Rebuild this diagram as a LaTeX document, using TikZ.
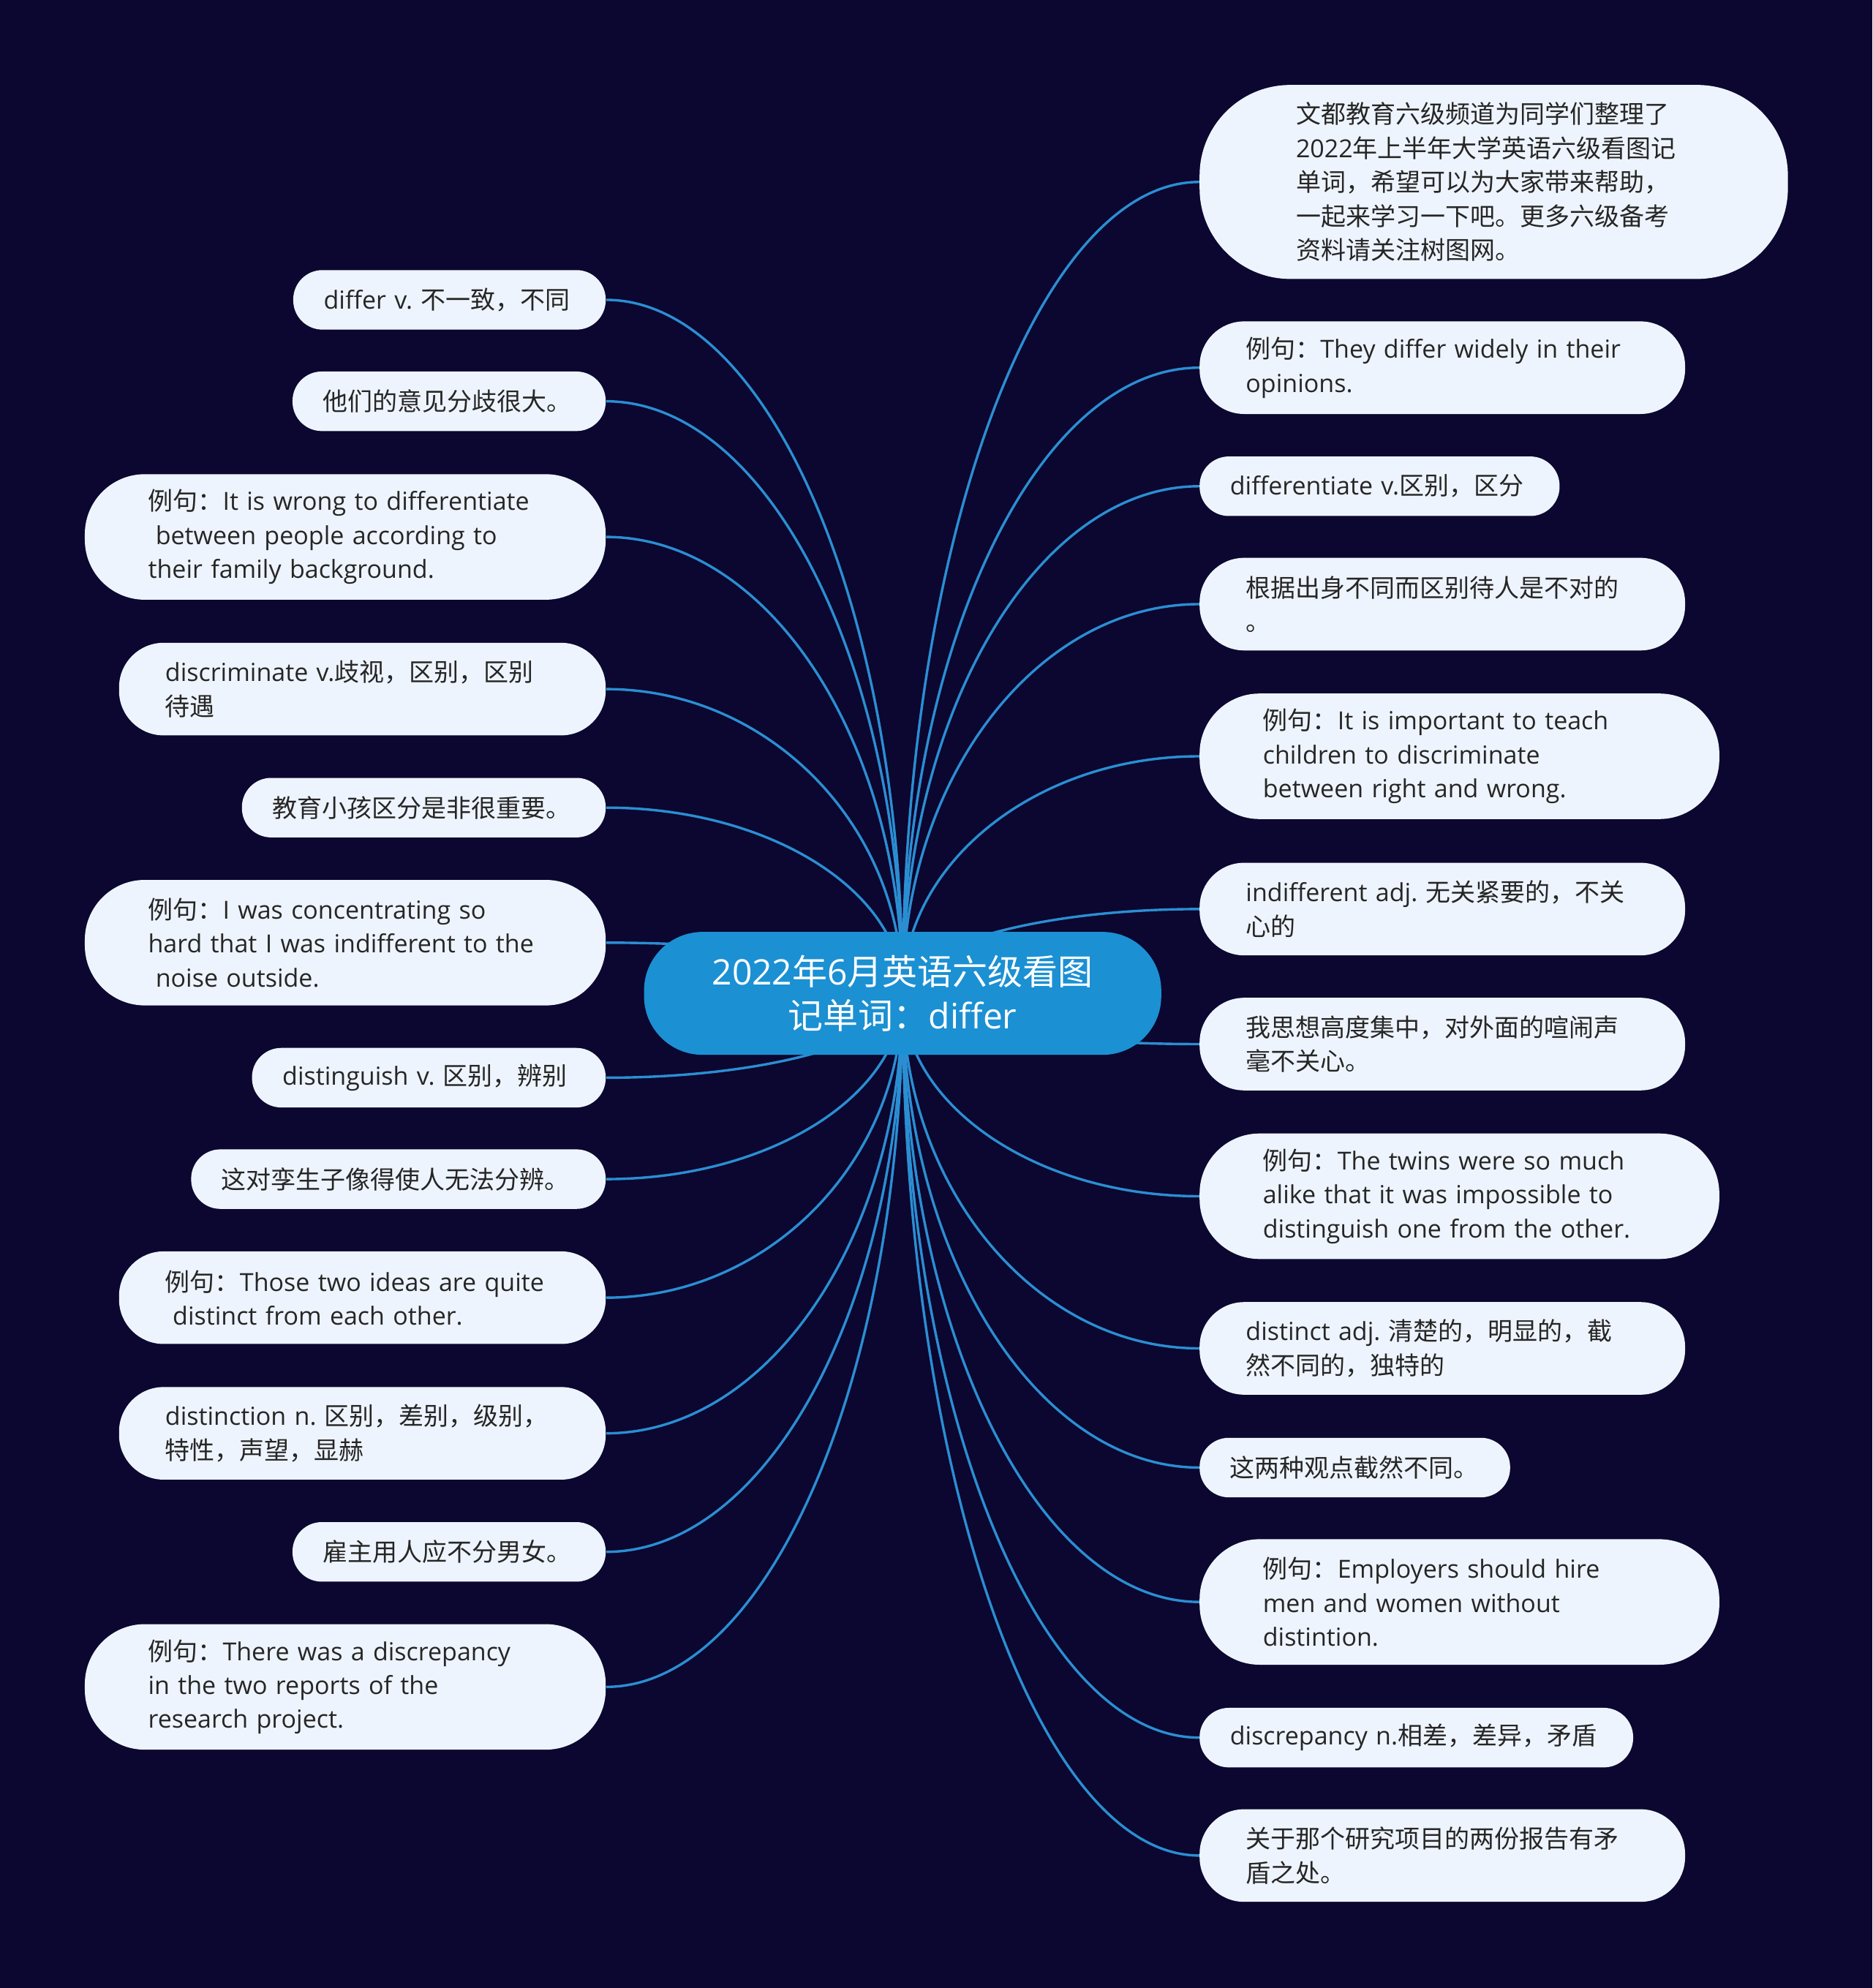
\documentclass[tikz,border=0pt]{standalone}
\usepackage{fontspec}
\setmainfont{Open Sans}[Scale=1.0]
\newfontfamily\cjk{Noto Sans CJK SC}
\usetikzlibrary{calc}
\definecolor{bgnavy}{HTML}{0B0730}
\definecolor{leafbg}{HTML}{EEF4FD}
\definecolor{leaftext}{HTML}{262626}
\definecolor{hubblue}{HTML}{1B90D3}
\definecolor{branchblue}{HTML}{2B8ED2}
\newcommand\leaffont{\fontsize{17}{23.2}\selectfont}
\newcommand\topicfont{\fontsize{24}{30.3}\selectfont}
\tikzset{
  leaf/.style={fill=leafbg, text=leaftext, font=\leaffont, align=left, inner ysep=0pt},
  leafL/.style={leaf, anchor=east},
  leafR/.style={leaf, anchor=west},
  oneline/.style={minimum height=40.7pt, rounded corners=20pt, inner xsep=20.8pt},
  twoline/.style={minimum height=63.3pt, rounded corners=30.5pt, inner xsep=31.6pt},
  threeline/.style={minimum height=85.8pt, rounded corners=41pt, inner xsep=43.3pt},
  fiveline/.style={minimum height=132.6pt, rounded corners=62pt, inner xsep=65.9pt},
  topic/.style={fill=hubblue, text=white, font=\topicfont, align=center,
                minimum width=353.6pt, minimum height=84pt, rounded corners=40pt},
  branch/.style={draw=branchblue, line width=1.7pt},
}
\newcommand\branchto[1]{\draw[branch] (hub) .. controls ($(hub)!.55!(hub|-#1)$) and ($(#1)!.55!(hub|-#1)$) .. (#1);}

\begin{document}
\begin{tikzpicture}[x=0.8667pt, y=-0.8667pt]
  \fill[bgnavy] (0,0) rectangle (1477,1568);
  \coordinate (hub) at (712,783.5);

  \node[leafL, oneline, text width=172pt] (l1) at (478,236.5) {differ v.~{\cjk 不一致，不同}};
  \node[leafL, oneline, text width=172.5pt] (l2) at (478,316.5) {{\cjk 他们的意见分歧很大。}};
  \node[leafL, threeline, text width=269.5pt] (l3) at (478,423.5) {{\cjk 例句：}It is wrong to differentiate\\\hspace*{.3em}between people according to\\their family background.};
  \node[leafL, twoline, text width=269.5pt] (l4) at (478,543.5) {discriminate v.{\cjk 歧视，区别，区别}\\{\cjk 待遇}};
  \node[leafL, oneline, text width=207.1pt] (l5) at (478,637) {{\cjk 教育小孩区分是非很重要。}};
  \node[leafL, threeline, text width=269.5pt] (l6) at (478,743.5) {{\cjk 例句：}I was concentrating so\\hard that I was indifferent to the\\\hspace*{.3em}noise outside.};
  \node[leafL, oneline, text width=200.2pt] (l7) at (478,850) {distinguish v.~{\cjk 区别，辨别}};
  \node[leafL, oneline, text width=241.8pt] (l8) at (478,930) {{\cjk 这对孪生子像得使人无法分辨。}};
  \node[leafL, twoline, text width=269.5pt] (l9) at (478,1023.5) {{\cjk 例句：}Those two ideas are quite\\\hspace*{.3em}distinct from each other.};
  \node[leafL, twoline, text width=269.5pt] (l10) at (478,1130.5) {distinction n.~{\cjk 区别，差别，级别，}\\{\cjk 特性，声望，显赫}};
  \node[leafL, oneline, text width=172.5pt] (l11) at (478,1224) {{\cjk 雇主用人应不分男女。}};
  \node[leafL, threeline, text width=269.5pt] (l12) at (478,1330.5) {{\cjk 例句：}There was a discrepancy\\in the two reports of the\\research project.};

  \node[leafR, fiveline, text width=270.4pt] (r1) at (946,143.5) {{\cjk 文都教育六级频道为同学们整理了}\\2022{\cjk 年上半年大学英语六级看图记}\\{\cjk 单词，希望可以为大家带来帮助，}\\{\cjk 一起来学习一下吧。更多六级备考}\\{\cjk 资料请关注树图网。}};
  \node[leafR, twoline, text width=268.7pt] (r2) at (946,290) {{\cjk 例句：}They differ widely in their\\opinions.};
  \node[leafR, oneline, text width=204.5pt] (r3) at (946,383.5) {differentiate v.{\cjk 区别，区分}};
  \node[leafR, twoline, text width=268.7pt] (r4) at (946,476.5) {{\cjk 根据出身不同而区别待人是不对的}\\{\cjk 。}};
  \node[leafR, threeline, text width=268.7pt] (r5) at (946,596.5) {{\cjk 例句：}It is important to teach\\children to discriminate\\between right and wrong.};
  \node[leafR, twoline, text width=268.7pt] (r6) at (946,717) {indifferent adj.~{\cjk 无关紧要的，不关}\\{\cjk 心的}};
  \node[leafR, twoline, text width=268.7pt] (r7) at (946,823.5) {{\cjk 我思想高度集中，对外面的喧闹声}\\{\cjk 毫不关心。}};
  \node[leafR, threeline, text width=268.7pt] (r8) at (946,943.5) {{\cjk 例句：}The twins were so much\\alike that it was impossible to\\distinguish one from the other.};
  \node[leafR, twoline, text width=268.7pt] (r9) at (946,1063.5) {distinct adj.~{\cjk 清楚的，明显的，截}\\{\cjk 然不同的，独特的}};
  \node[leafR, oneline, text width=170.7pt] (r10) at (946,1157.5) {{\cjk 这两种观点截然不同。}};
  \node[leafR, threeline, text width=268.7pt] (r11) at (946,1263.5) {{\cjk 例句：}Employers should hire\\men and women without\\distintion.};
  \node[leafR, oneline, text width=254.8pt] (r12) at (946,1370.5) {discrepancy n.{\cjk 相差，差异，矛盾}};
  \node[leafR, twoline, text width=268.7pt] (r13) at (946,1463.5) {{\cjk 关于那个研究项目的两份报告有矛}\\{\cjk 盾之处。}};

  \foreach \n in {l1,l2,l3,l4,l5,l6,l7,l8,l9,l10,l11,l12}
    {\branchto{\n.east}}
  \foreach \n in {r1,r2,r3,r4,r5,r6,r7,r8,r9,r10,r11,r12,r13}
    {\branchto{\n.west}}

  \node[topic] (root) at (hub) {2022{\cjk 年}6{\cjk 月英语六级看图}\\{\cjk 记单词：}differ};
\end{tikzpicture}
\end{document}
